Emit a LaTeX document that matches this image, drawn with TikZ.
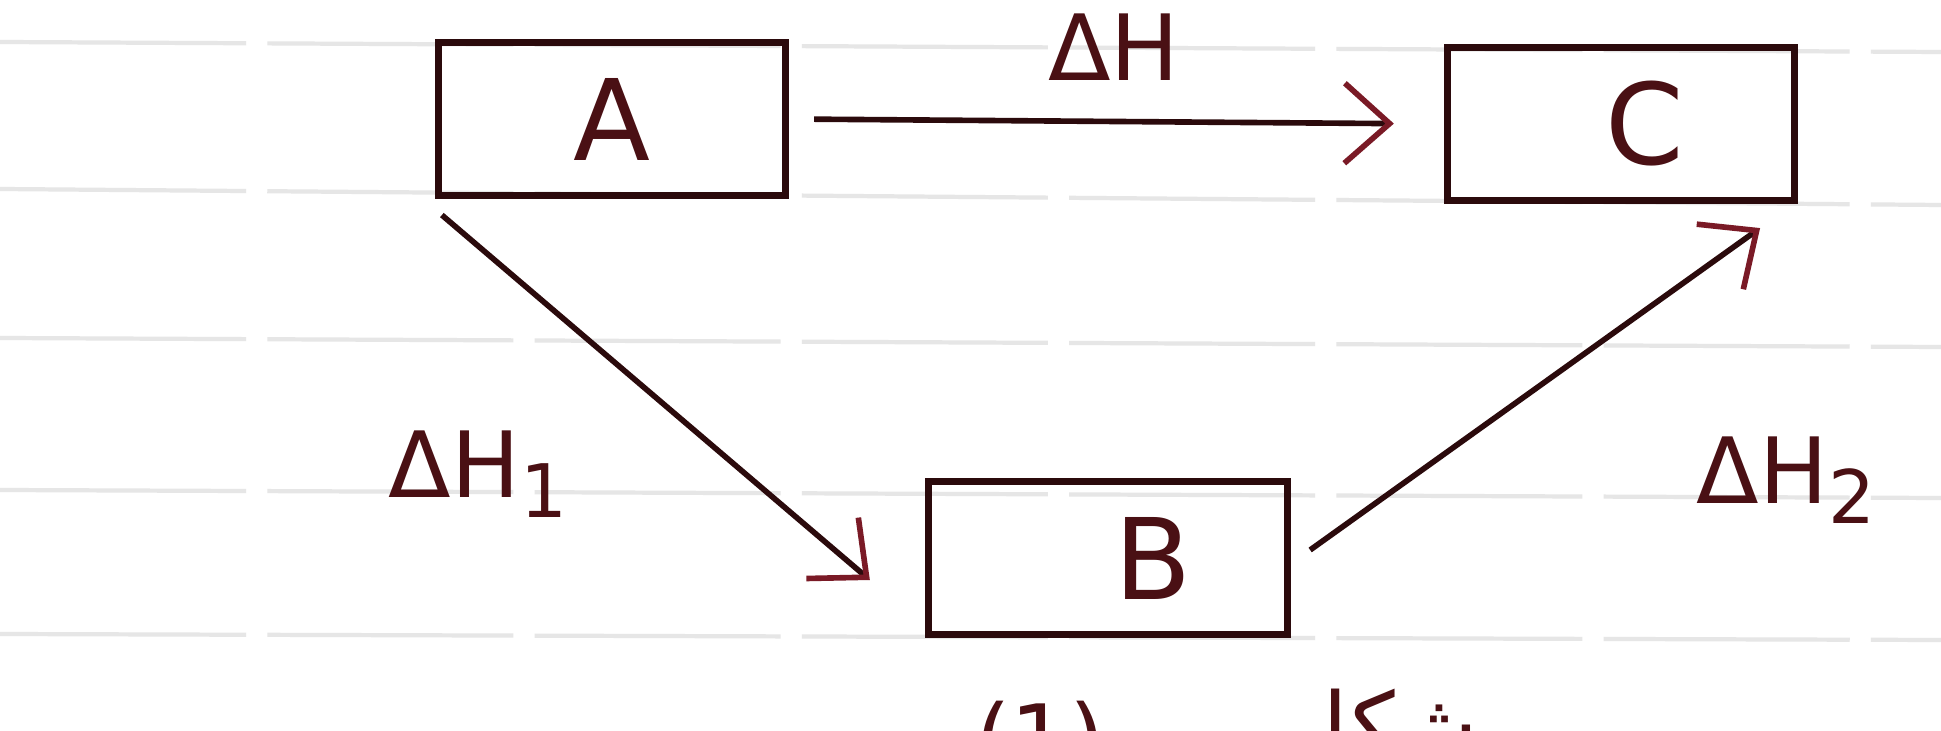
\documentclass[tikz,border=0pt]{standalone}
\usepackage{fontspec}
\setmainfont{DejaVu Sans}
\newfontfamily\arabicfont[Script=Arabic]{DejaVu Sans}
\TeXXeTstate=1
\usetikzlibrary{arrows.meta}
\definecolor{ink}{HTML}{2B0A0C}
\definecolor{letter}{HTML}{4A1014}
\definecolor{tip}{HTML}{7A1A26}
\definecolor{rule}{HTML}{E6E6E6}
\newcommand{\lowsub}[1]{\raisebox{-0.22em}{\fontsize{21}{24}\selectfont #1}}

\begin{document}
\begin{tikzpicture}[x=0.01cm,y=-0.01cm,
  box/.style={draw=ink,line width=2pt,minimum height=1.53cm,inner sep=0pt,
    text=letter,font=\fontsize{32}{38}\selectfont},
  flow/.style={draw=ink,line width=1.6pt,
    -{Straight Barb[length=4.5mm,width=8mm,line width=1.6pt,color=tip]}},
  lbl/.style={text=letter,font=\fontsize{26}{30}\selectfont,inner sep=0pt},
  ruled/.style={draw=rule,line width=1.2pt,dash pattern=on 70pt off 6pt}]
  \useasboundingbox[fill=white] (0,0) rectangle (1941,731);

  % ruled paper
  \foreach \ya/\yb in {42/52, 189/205, 338/347, 490/498, 634/640} {
    \draw[ruled] (0,\ya) -- (1941,\yb);
  }

  % states
  \node[box,minimum width=3.47cm] (A) at (612,119) {A};
  \node[box,minimum width=3.47cm] (C) at (1621,124) {\hspace*{0.48cm}C};
  \node[box,minimum width=3.59cm] (B) at (1108,558) {\hspace*{0.9cm}B};

  % paths
  \draw[flow,shorten <=0.25cm,shorten >=0.5cm] (A.east) -- (C.west);
  \draw[flow] ([xshift=0.07cm,yshift=-0.16cm]A.south west) -- ([xshift=-0.55cm,yshift=-0.22cm]B.west);
  \draw[flow] ([xshift=0.19cm,yshift=0.08cm]B.east) -- ([xshift=-0.38cm,yshift=-0.24cm]C.south east);

  \node[lbl] (dH) at (1114,47) {ΔH};
  \node[lbl,anchor=west] (dHa) at (388,474) {ΔH\lowsub{1}};
  \node[lbl,anchor=west] (dHb) at (1696,480) {ΔH\lowsub{2}};

  % caption, cut by the page edge
  \node[lbl,anchor=north] (fignum) at (1040,700) {(1)};
  \node[lbl,anchor=north] (figword) at (1380,688) {\arabicfont\beginR شكل\endR};
\end{tikzpicture}
\end{document}
